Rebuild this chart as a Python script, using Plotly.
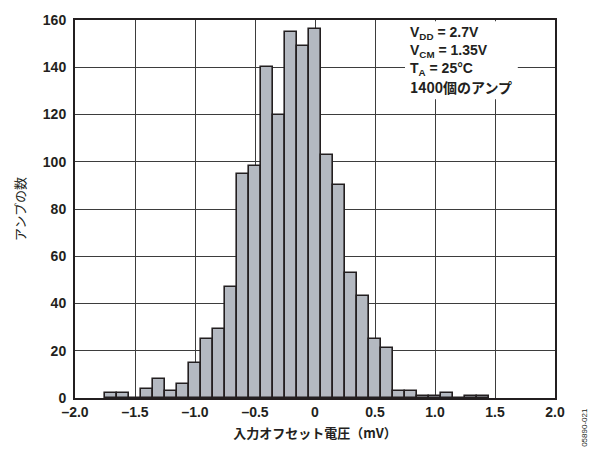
import plotly.graph_objects as go

bin_centers = [-1.7, -1.6, -1.5, -1.4, -1.3, -1.2, -1.1, -1.0, -0.9, -0.8,
               -0.7, -0.6, -0.5, -0.4, -0.3, -0.2, -0.1, 0.0, 0.1, 0.2,
               0.3, 0.4, 0.5, 0.6, 0.7, 0.8, 0.9, 1.0, 1.1, 1.2, 1.3, 1.4]
counts = [2, 2, 0, 4, 8, 3, 6, 15, 25, 29,
          47, 95, 98, 140, 120, 155, 149, 156, 103, 90,
          53, 43, 25, 21, 3, 3, 1, 1, 2, 0, 1, 1]
x_tickvals = [-2.0, -1.5, -1.0, -0.5, 0.0, 0.5, 1.0, 1.5, 2.0]
x_ticktext = ["–2.0", "–1.5", "–1.0", "–0.5", "0", "0.5", "1.0", "1.5", "2.0"]
y_tickvals = [0, 20, 40, 60, 80, 100, 120, 140, 160]
note_lines = ["V<sub>DD</sub> = 2.7V", "V<sub>CM</sub> = 1.35V",
              "T<sub>A</sub> = 25°C", "1400個のアンプ"]

INK = "#231f20"
FONT = "Liberation Sans, Arial, sans-serif"
JP = "Noto Sans CJK JP, sans-serif"

fig = go.Figure()
fig.add_trace(go.Bar(
    x=bin_centers, y=counts, width=0.1,
    marker=dict(color="#b4b9c1", line=dict(color=INK, width=1.6)),
    showlegend=False,
))

fig.update_layout(
    width=591, height=455,
    margin=dict(l=75, r=36, t=15, b=57),
    plot_bgcolor="white", paper_bgcolor="white",
    bargap=0,
    font=dict(family=FONT, color=INK),
)
fig.update_xaxes(
    range=[-2.0, 2.0], tickvals=x_tickvals, ticktext=x_ticktext,
    showgrid=True, gridcolor="#3d3d3d", gridwidth=1,
    showline=True, linecolor=INK, linewidth=2, mirror=True,
    ticks="", zeroline=False,
    tickfont=dict(family=FONT, size=14, color=INK, weight="bold"),
    title=dict(text="入力オフセット電圧（mV）", font=dict(family=JP, size=13, color=INK, weight="bold"), standoff=10),
)
fig.update_yaxes(
    range=[0, 160], tickvals=y_tickvals,
    showgrid=True, gridcolor="#3d3d3d", gridwidth=1,
    showline=True, linecolor=INK, linewidth=2, mirror=True,
    ticks="", zeroline=False,
    tickfont=dict(family=FONT, size=14, color=INK, weight="bold"),
    ticklabelstandoff=4,
    title=dict(text="アンプの数", font=dict(family=JP, size=13, color=INK), standoff=14),
)

# white backing box behind the condition notes (between gridlines and bars)
fig.add_shape(type="rect", xref="x", yref="y", x0=0.75, x1=1.69, y0=126.5, y1=159.5,
              fillcolor="white", line=dict(width=0), layer="between")

for i, line in enumerate(note_lines):
    fam = JP if i == 3 else FONT
    fig.add_annotation(
        xref="paper", yref="paper", x=0.694, y=(398 - (28 + 18.2 * i)) / 383,
        xanchor="left", yanchor="middle", align="left", showarrow=False,
        text=line, font=dict(family=fam, size=14, color=INK, weight="bold"),
    )

fig.add_annotation(
    xref="paper", yref="paper", x=1.06, y=-0.02, xanchor="center", yanchor="top",
    showarrow=False, textangle=-90, text="05890-021",
    font=dict(family=FONT, size=8, color=INK),
)

fig.write_html("out.html")
